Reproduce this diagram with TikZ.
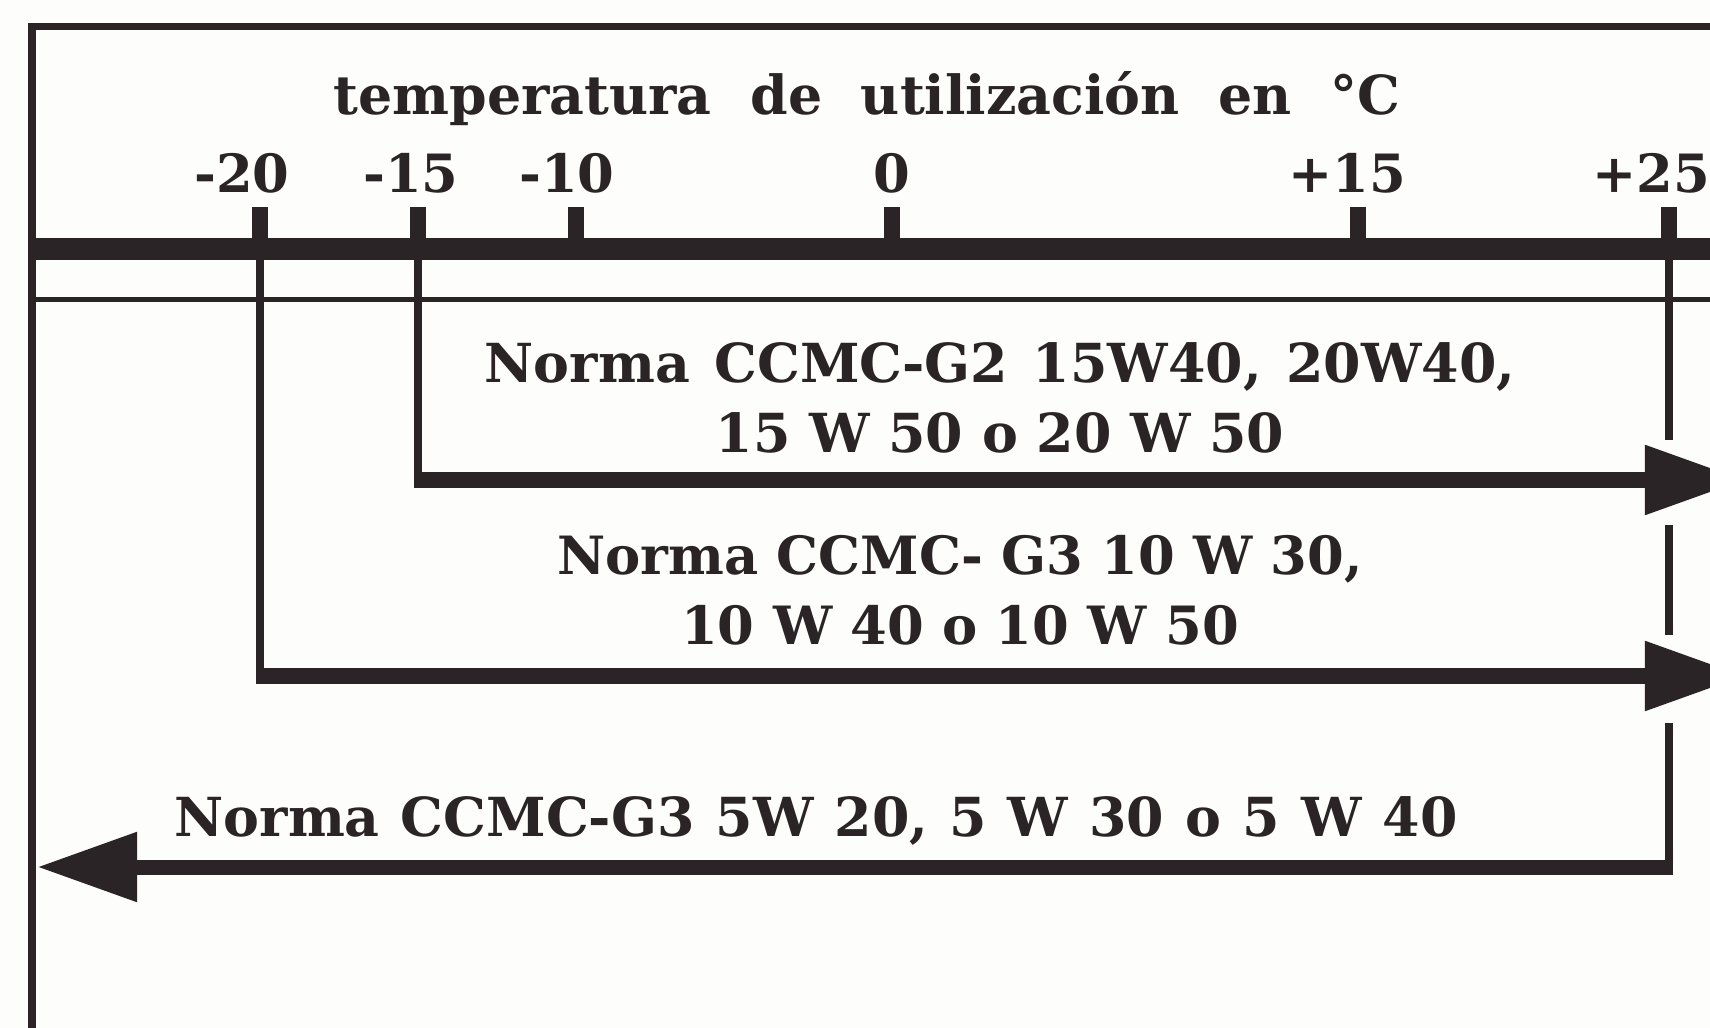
\documentclass[tikz,border=0pt]{standalone}
\usepackage{fontspec}
\setmainfont{DejaVu Serif}
\usetikzlibrary{arrows.meta}
\definecolor{ink}{HTML}{2B2427}
\definecolor{paper}{HTML}{FDFDFB}
\newcommand{\widesp}[1]{\spaceskip=#1\relax}
\tikzset{
  lbl/.style={font=\bfseries\fontsize{15}{20}\selectfont,text=ink,inner sep=0pt,align=center},
  biglbl/.style={lbl,font=\bfseries\fontsize{15.3}{20}\selectfont},
  guide/.style={draw=ink,line width=0.08cm},
  flow/.style={draw=ink,line width=0.15cm,-{Triangle[length=1cm,width=0.66cm]}},
  tickmark/.style={draw=ink,line width=0.16cm},
}

\begin{document}
\begin{tikzpicture}[x=0.01cm,y=-0.01cm]
  \clip (0,0) rectangle (1710,1028);
  \fill[paper] (0,0) rectangle (1710,1028);
  % frame and scale
  \draw[ink,line width=0.07cm] (32,1028) -- (32,27) -- (1710,27);
  \draw[ink,line width=0.22cm] (32,249) -- (1710,249);
  \draw[ink,line width=0.05cm] (32,300) -- (1710,300);
  \node[biglbl,anchor=base] (title) at (867,115) {\widesp{11pt}temperatura de utilización en °C};
  \foreach \x/\lx/\t/\n in {260/242/-20/m20,418/411/-15/m15,576/567/-10/m10,892/892/0/z,1358/1347/+15/p15,1669/1651/+25/p25}{
    \coordinate (t\n) at (\x,249);
    \draw[tickmark] (\x,207) -- (t\n);
    \node[lbl,anchor=base] (l\n) at (\lx,193) {\t};
  }
  % ranges
  \coordinate (c15) at (418,480);
  \coordinate (c20) at (260,676);
  \coordinate (e15) at (1745,480);
  \coordinate (e20) at (1745,676);
  \coordinate (c25) at (1669,867);
  \coordinate (e25) at (37,867);
  \draw[guide] (tm15) -- (c15);
  \draw[flow] ([xshift=-0.04cm]c15) -- (e15);
  \draw[guide] (tm20) -- (c20);
  \draw[flow] ([xshift=-0.04cm]c20) -- (e20);
  \draw[guide] (tp25) -- (1669,440);
  \draw[guide] (1669,525) -- (1669,635);
  \draw[guide] (1669,723) -- (c25);
  \draw[flow] ([xshift=0.04cm]c25) -- (e25);
  \node[biglbl] (g2) at (1000,398) {\widesp{7pt}Norma CCMC-G2 15W40, 20W40,\\ 15 W 50 o 20 W 50};
  \node[lbl] (g3) at (960,590) {Norma CCMC- G3 10 W 30,\\ 10 W 40 o 10 W 50};
  \node[biglbl,anchor=base] (g3b) at (816,836) {\widesp{6pt}Norma CCMC-G3 5W 20, 5 W 30 o 5 W 40};
\end{tikzpicture}
\end{document}
